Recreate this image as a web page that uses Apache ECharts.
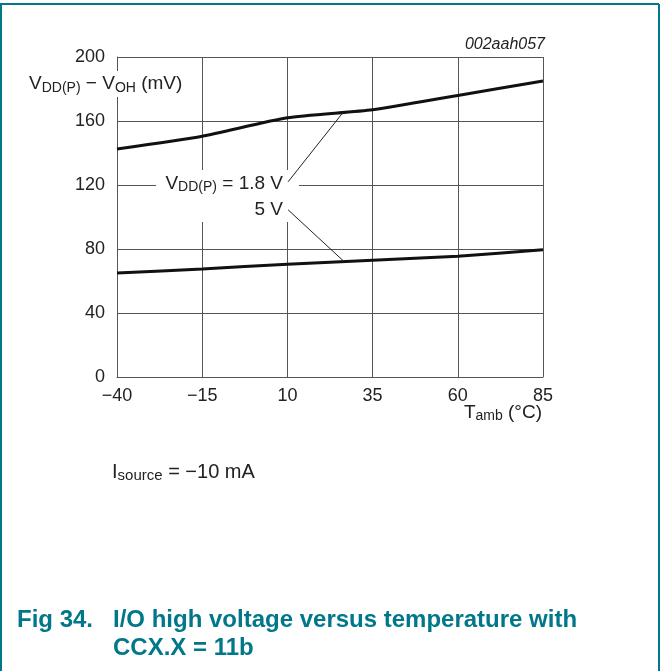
<!DOCTYPE html>
<html>
<head>
<meta charset="utf-8">
<script src="https://cdn.jsdelivr.net/npm/echarts@6/dist/echarts.min.js"></script>
<style>
	html, body { margin: 0; padding: 0; background: #fff; }
	#chart { width: 661px; height: 671px; }
</style>
</head>
<body>
<div id="chart"></div>
<script>
	// temperature ticks (°C) and the two curves (mV)
	const tempTicks = [-40, -15, 10, 35, 60, 85];
	const vdd18 = [142.5, 150.5, 162, 167, 176, 185];
	const vdd5 = [65, 67.5, 70.5, 73, 75.5, 79.5];
	// leader lines from labels to curves, in data units
	const lead18 = [[10.2, 122], [26.3, 165.3]];
	const lead5 = [[10.2, 104.5], [26.3, 72.8]];

	const teal = '#00788a';
	const font = '"Liberation Sans", Arial, sans-serif';
	const minus = v => String(v).replace('-', '\u2212');
	const subRich = {
		a: { fontSize: 19, fontFamily: font, fill: '#222' },
		s: { fontSize: 14, fontFamily: font, fill: '#222', padding: [8, 0, 0, 0] },
	};

	const chart = echarts.init(document.getElementById('chart'), null, { renderer: 'canvas' });

	const option = {
		backgroundColor: '#fff',
		animation: false,
		textStyle: { fontFamily: font },
		grid: { left: 117, top: 57, right: 118, bottom: 294, containLabel: false },
		xAxis: {
			type: 'value',
			min: -40,
			max: 85,
			interval: 25,
			axisTick: { show: false },
			axisLine: { onZero: false, lineStyle: { color: '#555', width: 1 } },
			axisLabel: { color: '#222', fontSize: 18, margin: 10, formatter: minus },
			splitLine: { show: true, lineStyle: { color: '#555', width: 1 } },
		},
		yAxis: {
			type: 'value',
			min: 0,
			max: 200,
			interval: 40,
			axisTick: { show: false },
			axisLine: { show: true, onZero: false, lineStyle: { color: '#555', width: 1 } },
			axisLabel: { color: '#222', fontSize: 18, margin: 12 },
			splitLine: { show: true, lineStyle: { color: '#555', width: 1 } },
		},
		series: [{
			name: '1.8 V',
			type: 'line',
			z: 150,
			smooth: 0.2,
			symbol: 'none',
			lineStyle: { color: '#111', width: 3 },
			data: tempTicks.map((t, i) => [t, vdd18[i]]),
		}, {
			name: '5 V',
			type: 'line',
			z: 150,
			smooth: 0.2,
			symbol: 'none',
			lineStyle: { color: '#111', width: 3 },
			data: tempTicks.map((t, i) => [t, vdd5[i]]),
		}, {
			type: 'line',
			z: 150,
			symbol: 'none',
			lineStyle: { color: '#222', width: 1 },
			data: lead18,
		}, {
			type: 'line',
			z: 150,
			symbol: 'none',
			lineStyle: { color: '#222', width: 1 },
			data: lead5,
		}],
		graphic: [
			// frame
			{ type: 'line', z: 100, shape: { x1: 0, y1: 4, x2: 659, y2: 4 }, style: { stroke: teal, lineWidth: 2 } },
			{ type: 'line', z: 100, shape: { x1: 1, y1: 4, x2: 1, y2: 671 }, style: { stroke: teal, lineWidth: 2 } },
			{ type: 'line', z: 100, shape: { x1: 659, y1: 4, x2: 659, y2: 671 }, style: { stroke: teal, lineWidth: 2 } },
			// white patch behind the curve labels
			{ type: 'rect', z: 100, shape: { x: 156, y: 170, width: 143, height: 52 }, style: { fill: '#fff' } },
			{
				type: 'text', z: 120, left: 27, top: 71,
				style: {
					text: '{a|V}{s|DD(P)}{a| \u2212 V}{s|OH}{a| (mV)}',
					backgroundColor: '#fff',
					padding: [2, 2, 2, 2],
					rich: subRich,
				},
			},
			{
				type: 'text', z: 120, right: 116, top: 37,
				style: { text: '002aah057', fontSize: 16, fontStyle: 'italic', fontFamily: font, fill: '#222' },
			},
			{
				type: 'text', z: 120, right: 119, top: 403,
				style: { text: '{a|T}{s|amb}{a| (°C)}', rich: subRich },
			},
			{
				type: 'text', z: 120, right: 378, top: 174,
				style: { text: '{a|V}{s|DD(P)}{a| = 1.8 V}', rich: subRich },
			},
			{
				type: 'text', z: 120, right: 378, top: 200,
				style: { text: '5 V', fontSize: 19, fontFamily: font, fill: '#222' },
			},
			{
				type: 'text', z: 120, left: 112, top: 462,
				style: {
					text: '{a|I}{s|source}{a| = \u221210 mA}',
					rich: {
						a: { fontSize: 20, fontFamily: font, fill: '#222' },
						s: { fontSize: 15, fontFamily: font, fill: '#222', padding: [8, 0, 0, 0] },
					},
				},
			},
			{
				type: 'text', z: 120, left: 17, top: 606,
				style: { text: 'Fig 34.', fontSize: 24, lineHeight: 28, fontWeight: 'bold', fontFamily: font, fill: teal },
			},
			{
				type: 'text', z: 120, left: 113, top: 606,
				style: {
					text: 'I/O high voltage versus temperature with\nCCX.X = 11b',
					fontSize: 24, lineHeight: 28, fontWeight: 'bold', fontFamily: font, fill: teal,
				},
			},
		],
	};

	chart.setOption(option);
</script>
</body>
</html>
